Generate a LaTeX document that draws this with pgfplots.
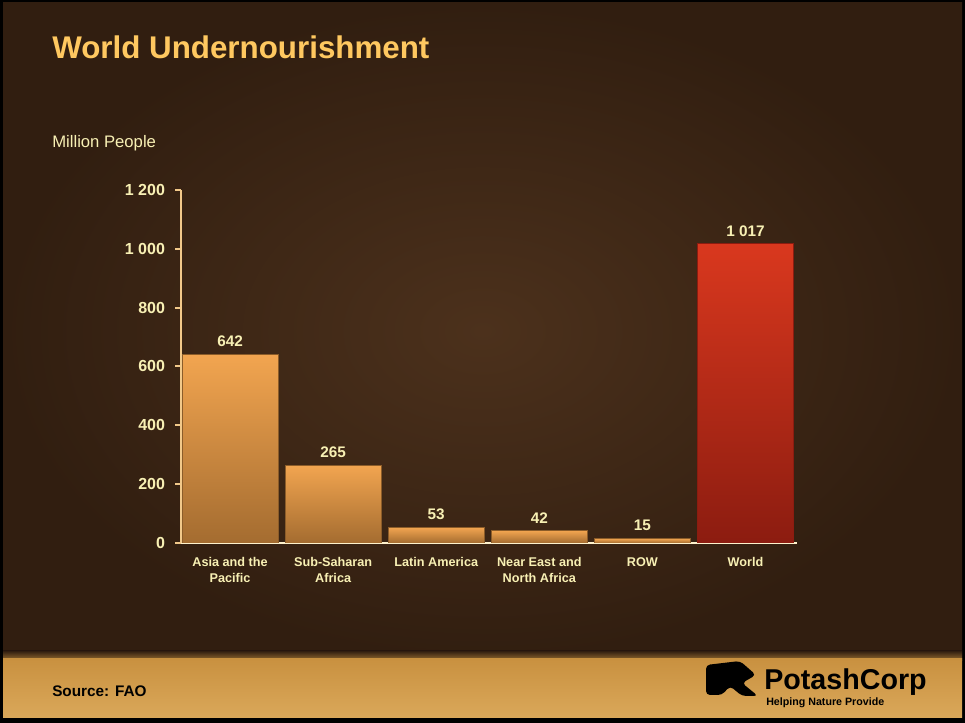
\documentclass[border=0pt]{standalone}
\usepackage{pgfplots}
\pgfplotsset{compat=1.18}
\usepackage{fontspec}
\setmainfont{Liberation Sans}
\definecolor{bgmid}{HTML}{4C311C}
\definecolor{bgedge}{HTML}{311E10}
\definecolor{strip}{HTML}{C99140}
\definecolor{striplt}{HTML}{DAA85A}
\definecolor{titlecol}{HTML}{FFC860}
\definecolor{cream}{HTML}{F8F0B4}
\definecolor{yaxiscol}{HTML}{F2C98A}
\definecolor{xaxiscol}{HTML}{FFF2CC}
\definecolor{bartop}{HTML}{F2A550}
\definecolor{barbot}{HTML}{A46C30}
\definecolor{wtop}{HTML}{D9381E}
\definecolor{wbot}{HTML}{8C1C10}
\pgfplotsset{orangebar/.style={draw=barbot!85!black, line width=0.6pt, top color=bartop, bottom color=barbot}}
\begin{document}
\begin{tikzpicture}
% background (1 unit = 1 px, y measured from the bottom)
\begin{scope}[x=0.75pt,y=0.75pt]
\fill[black] (0,0) rectangle (965,723);
\shade[inner color=bgmid, outer color=bgedge] (3,64) rectangle (962,720);
\shade[top color=bgedge, bottom color=strip!80!black] (3,62) rectangle (962,72);
\shade[top color=strip, bottom color=striplt] (3,5) rectangle (962,64);
\node[anchor=base west, font=\bfseries\fontsize{23.5}{28}\selectfont, text=titlecol, inner sep=0pt] at (52,664) {World Undernourishment};
\node[anchor=base west, font=\fontsize{12.5}{15}\selectfont, text=cream, inner sep=0pt] at (52,575) {Million People};
\node[anchor=base west, font=\bfseries\fontsize{11.5}{14}\selectfont, inner sep=0pt] at (52,26) {Source: FAO};
\node[anchor=base west, font=\bfseries\fontsize{21.5}{26}\selectfont, inner sep=0pt] at (764,33) {PotashCorp};
\node[anchor=base west, font=\bfseries\fontsize{8}{9}\selectfont, inner sep=0pt] at (766,17) {Helping Nature Provide};
\fill[black, rounded corners=3] (706,28) -- (706,58) -- (740,62) -- (756,48) -- (742,40) -- (758,27) -- (742,27) -- (730,37) -- (722,28) -- cycle;
\end{scope}
\begin{axis}[
    at={(135.75pt,135pt)}, anchor=south west,
    scale only axis, width=462pt, height=264.75pt,
    xmin=-0.476, xmax=5.5, ymin=0, ymax=1200,
    enlargelimits=false,
    axis lines=left,
    x axis line style={-, draw=xaxiscol, line width=1.5pt},
    y axis line style={-, draw=yaxiscol, line width=1.8pt},
    ytick={0,200,...,1200},
    ytick style={draw=yaxiscol, line width=1.5pt},
    tick align=outside, major tick length=4.5pt,
    xtick={0,...,5},
    xtick style={draw=none},
    xticklabels={{Asia and the\\Pacific},{Sub-Saharan\\Africa},{Latin America},{Near East and\\North Africa},{ROW},{World}},
    xticklabel style={align=center, font=\bfseries\fontsize{9.5}{11.5}\selectfont, text=cream, yshift=-3pt},
    yticklabel style={font=\bfseries\fontsize{12}{14}\selectfont, text=cream, xshift=-4pt},
    /pgf/number format/assume math mode=true,
    /pgf/number format/1000 sep={\ },
    ybar, bar width=72pt, bar shift=0pt,
    nodes near coords,
    every node near coord/.append style={font=\bfseries\fontsize{11.5}{14}\selectfont, text=cream, yshift=2pt},
]
\addplot[orangebar] coordinates {(0,642)};
\addplot[orangebar] coordinates {(1,265)};
\addplot[orangebar] coordinates {(2,53)};
\addplot[orangebar] coordinates {(3,42)};
\addplot[orangebar] coordinates {(4,15)};
\addplot[draw=wbot, line width=0.6pt, top color=wtop, bottom color=wbot] coordinates {(5,1017)};
\end{axis}
\end{tikzpicture}
\end{document}
